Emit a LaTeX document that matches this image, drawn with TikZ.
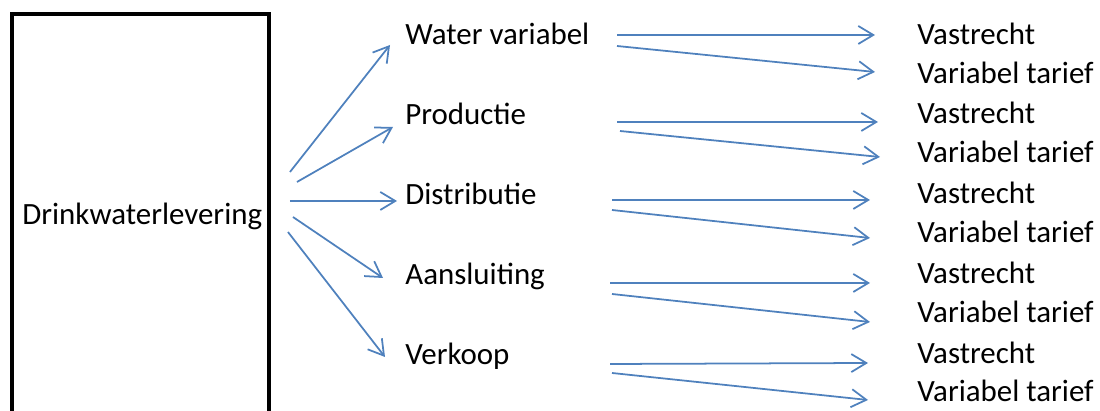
\documentclass[tikz,border=0pt]{standalone}
\usepackage{fontspec}
\setmainfont{Carlito}
\usepackage{tikz}
\usetikzlibrary{positioning, arrows.meta, calc}
\definecolor{pijlkleur}{RGB}{79,129,189}

\begin{document}
\begin{tikzpicture}[x=0.02cm, y=-0.02cm,
    pijl/.style={-{Straight Barb[length=3mm, width=3.6mm]}, line width=1pt, pijlkleur},
    tekst/.style={anchor=base west, inner sep=0pt, font=\fontsize{17.6}{20}\selectfont}]
    \useasboundingbox (0,0) rectangle (1100,411);
    \clip (0,0) rectangle (1100,411);

    % Hoofdblok (loopt onder de rand door)
    \node[draw, line width=2pt, minimum width=5.15cm, minimum height=9cm, anchor=north west] (blok) at (10,12) {};
    \node[tekst] (drink) at (22,225) {Drinkwaterlevering};

    % Onderdelen
    \node[tekst] (water) at (405,45) {Water variabel};
    \node[tekst] (prod) at (405,125) {Productie};
    \node[tekst] (dist) at (405,205) {Distributie};
    \node[tekst] (aans) at (405,285) {Aansluiting};
    \node[tekst] (verk) at (405,365) {Verkoop};

    % Tarieven
    \node[tekst] (vast1) at (917,45) {Vastrecht};
    \node[tekst] (var1) at (917,84) {Variabel tarief};
    \node[tekst] (vast2) at (917,124) {Vastrecht};
    \node[tekst] (var2) at (917,163) {Variabel tarief};
    \node[tekst] (vast3) at (917,204) {Vastrecht};
    \node[tekst] (var3) at (917,243) {Variabel tarief};
    \node[tekst] (vast4) at (917,284) {Vastrecht};
    \node[tekst] (var4) at (917,323) {Variabel tarief};
    \node[tekst] (vast5) at (917,364) {Vastrecht};
    \node[tekst] (var5) at (917,402) {Variabel tarief};

    % Pijlen vanuit het blok
    \draw[pijl] ([shift={(19,160)}]blok.north east) -- ([shift={(-15,0)}]water.base west);
    \draw[pijl] ([shift={(26,170)}]blok.north east) -- ([shift={(-12,2)}]prod.base west);
    \draw[pijl] ([shift={(19,189)}]blok.north east) -- ([shift={(-8,-4)}]dist.base west);
    \draw[pijl] ([shift={(22,205)}]blok.north east) -- ([shift={(-22,-7)}]aans.base west);
    \draw[pijl] ([shift={(17,220)}]blok.north east) -- ([shift={(-20,-8)}]verk.base west);

    % Pijlen naar de tarieven
    \draw[pijl] ([shift={(212,-10)}]water.base west) -- ([shift={(-42,-10)}]vast1.base west);
    \draw[pijl] ([shift={(212,1)}]water.base west) -- ([shift={(-42,-12)}]var1.base west);
    \draw[pijl] ([shift={(212,-3)}]prod.base west) -- ([shift={(-39,-2)}]vast2.base west);
    \draw[pijl] ([shift={(215,6)}]prod.base west) -- ([shift={(-37,-6)}]var2.base west);
    \draw[pijl] ([shift={(207,-5)}]dist.base west) -- ([shift={(-47,-4)}]vast3.base west);
    \draw[pijl] ([shift={(207,5)}]dist.base west) -- ([shift={(-47,-5)}]var3.base west);
    \draw[pijl] ([shift={(205,-2)}]aans.base west) -- ([shift={(-47,-1)}]vast4.base west);
    \draw[pijl] ([shift={(207,9)}]aans.base west) -- ([shift={(-47,-1)}]var4.base west);
    \draw[pijl] ([shift={(205,-1)}]verk.base west) -- ([shift={(-49,-1)}]vast5.base west);
    \draw[pijl] ([shift={(207,8)}]verk.base west) -- ([shift={(-49,-2)}]var5.base west);
\end{tikzpicture}
\end{document}
